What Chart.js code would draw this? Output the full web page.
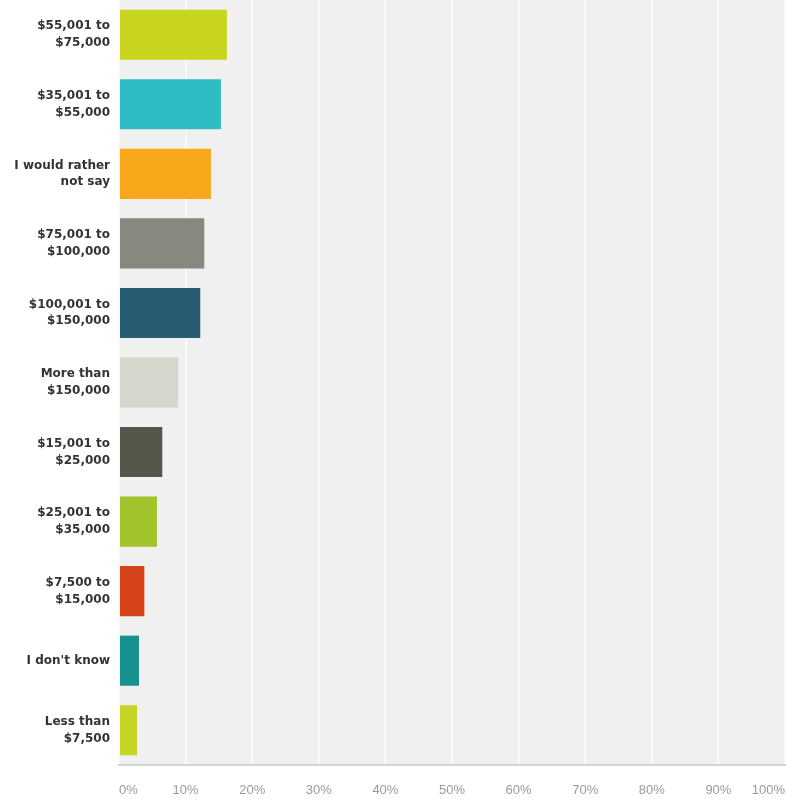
<!DOCTYPE html>
<html>
<head>
<meta charset="utf-8">
<script src="https://cdn.jsdelivr.net/npm/chart.js@4/dist/chart.umd.min.js"></script>
<style>
  html, body { margin: 0; padding: 0; background: #ffffff; }
  #wrap { width: 787px; height: 802px; }
</style>
</head>
<body>
<div id="wrap"><canvas id="c" width="787" height="802"></canvas></div>
<script>
// Household income answers, share of respondents (%)
const categories = [
  ["$55,001 to", "$75,000"],
  ["$35,001 to", "$55,000"],
  ["I would rather", "not say"],
  ["$75,001 to", "$100,000"],
  ["$100,001 to", "$150,000"],
  ["More than", "$150,000"],
  ["$15,001 to", "$25,000"],
  ["$25,001 to", "$35,000"],
  ["$7,500 to", "$15,000"],
  "I don't know",
  ["Less than", "$7,500"]
];
const shares = [16.2, 15.3, 13.8, 12.8, 12.2, 8.9, 6.5, 5.7, 3.8, 3.0, 2.7];
const barColors = [
  "#c8d51f", "#2dbcc4", "#f9a81b", "#87887e", "#285c70", "#d6d6cc",
  "#54574a", "#a2c32a", "#d8441a", "#17918f", "#c6d425"
];
const percentTicks = [0, 10, 20, 30, 40, 50, 60, 70, 80, 90, 100];

// Light grey panel behind the bars
const panelBackground = {
  id: "panelBackground",
  beforeDraw(chart) {
    const { ctx, chartArea: a } = chart;
    ctx.save();
    ctx.fillStyle = "#f0f0f0";
    ctx.fillRect(a.left, a.top, a.right - a.left, a.bottom - a.top);
    ctx.restore();
  }
};

// Fixed axis boxes, no extra room reserved for overhanging labels
function fixBox(scale, size) {
  if (scale.isHorizontal()) scale.height = size; else scale.width = size;
  scale.paddingTop = 0;
  scale.paddingBottom = 0;
  scale.paddingLeft = 0;
  scale.paddingRight = 0;
}

new Chart(document.getElementById("c"), {
  type: "bar",
  data: {
    labels: categories,
    datasets: [{
      data: shares,
      backgroundColor: barColors,
      borderWidth: 0,
      categoryPercentage: 1,
      barPercentage: 0.72
    }]
  },
  options: {
    indexAxis: "y",
    responsive: false,
    animation: false,
    devicePixelRatio: 1,
    layout: { padding: { top: 0, right: 2, bottom: 0, left: 0 } },
    plugins: {
      legend: { display: false },
      title: { display: false },
      tooltip: { enabled: false }
    },
    scales: {
      x: {
        type: "linear",
        min: 0,
        max: 100,
        afterBuildTicks(scale) {
          scale.ticks = percentTicks.map(v => ({ value: v }));
        },
        afterFit(scale) { fixBox(scale, 37); },
        grid: { color: "#f9f9f9", lineWidth: 2, drawTicks: false },
        border: { display: true, color: "#d4d4d4", width: 2 },
        ticks: {
          align: "inner",
          padding: 18,
          color: "#9a9a9a",
          font: { family: "Liberation Sans", size: 13 },
          callback: v => v + "%"
        }
      },
      y: {
        afterFit(scale) { fixBox(scale, 119); },
        grid: { display: false, drawTicks: false },
        border: { display: false },
        ticks: {
          padding: 9,
          color: "#333333",
          font: { family: "DejaVu Sans", size: 12, weight: "bold", lineHeight: 1.4 }
        }
      }
    }
  },
  plugins: [panelBackground]
});
</script>
</body>
</html>
